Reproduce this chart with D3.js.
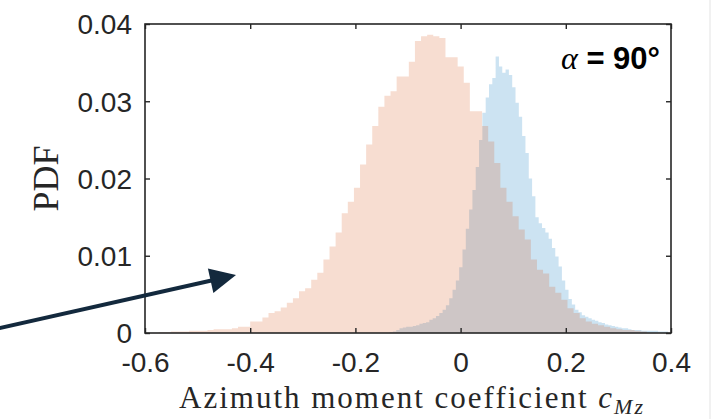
<!DOCTYPE html>
<html lang="en">
<head>
<meta charset="UTF-8">
<title>Azimuth moment coefficient PDF</title>
<script src="https://cdn.jsdelivr.net/npm/d3@7"></script>
<style>
    body { margin: 0; background: #fff; }
    svg { display: block; }
    .tick text { font-family: "Liberation Sans", Arial, sans-serif; font-size: 28px; fill: #262626; }
    .tick line { stroke: #262626; stroke-width: 1.4; }
</style>
</head>
<body>
<svg id="chart" width="718" height="419"></svg>
<script>
// axis ticks
const xTicks = [-0.6, -0.4, -0.2, 0, 0.2, 0.4];
const yTicks = [0, 0.01, 0.02, 0.03, 0.04];

// orange histogram (first edge, bin width, PDF per bin)
const orangeStart = -0.574;
const orangeWidth = 0.0116;
const orangePdf = [
    0.0001, 0.0001, 0.0002, 0.0002, 0.0002, 0.0003, 0.0003, 0.0003, 0.0004, 0.0005,
    0.0005, 0.0005, 0.0006, 0.0008, 0.0008, 0.0015, 0.0015, 0.0020, 0.0026, 0.0028,
    0.0033, 0.0039, 0.0045, 0.0054, 0.0058, 0.0069, 0.0078, 0.0095, 0.0112, 0.0130,
    0.0155, 0.0170, 0.0188, 0.0218, 0.0244, 0.0268, 0.0293, 0.0307, 0.0313, 0.0332,
    0.0332, 0.0351, 0.0378, 0.0384, 0.0386, 0.0384, 0.0382, 0.0357, 0.0357, 0.0345,
    0.0324, 0.0287, 0.0287, 0.0268, 0.0248, 0.0220, 0.0188, 0.0170, 0.0151, 0.0134,
    0.0121, 0.0095, 0.0082, 0.0077, 0.0060, 0.0052, 0.0043, 0.0032, 0.0026, 0.0019,
    0.0015, 0.0012, 0.0010, 0.0008, 0.0006, 0.0005, 0.0004, 0.0004, 0.0003, 0.0002
];

// blue histogram
const blueStart = -0.135;
const blueWidth = 0.0063;
const bluePdf = [
    0.0001, 0.0002, 0.0004, 0.0006, 0.0007, 0.0008, 0.0008, 0.0009, 0.0010, 0.0012,
    0.0013, 0.0014, 0.0017, 0.0019, 0.0022, 0.0026, 0.0030, 0.0036, 0.0045, 0.0056,
    0.0068, 0.0085, 0.0108, 0.0135, 0.0160, 0.0185, 0.0215, 0.0250, 0.0285, 0.0305,
    0.0322, 0.0330, 0.0358, 0.0345, 0.0337, 0.0341, 0.0334, 0.0318, 0.0298, 0.0280,
    0.0255, 0.0233, 0.0200, 0.0177, 0.0150, 0.0142, 0.0136, 0.0130, 0.0122, 0.0110,
    0.0099, 0.0086, 0.0068, 0.0056, 0.0044, 0.0037, 0.0030, 0.0027, 0.0023, 0.0021,
    0.0019, 0.0017, 0.0016, 0.0014, 0.0013, 0.0011, 0.0010, 0.0009, 0.0008, 0.0007,
    0.0006, 0.0006, 0.0005, 0.0004, 0.0004, 0.0004, 0.0003, 0.0003, 0.0003, 0.0003,
    0.0003, 0.0002, 0.0002, 0.0002
];

const svg = d3.select("#chart");
const margin = { left: 145, right: 47, top: 24, bottom: 86 };
const width = 718 - margin.left - margin.right;
const height = 419 - margin.top - margin.bottom;

const x = d3.scaleLinear().domain([-0.6, 0.4]).range([margin.left, margin.left + width]);
const y = d3.scaleLinear().domain([0, 0.04]).range([margin.top + height, margin.top]);

function stepPoints(start, w, vals) {
    const pts = vals.map((v, i) => ({ x: start + i * w, v: v }));
    pts.push({ x: start + vals.length * w, v: vals[vals.length - 1] });
    return pts;
}

const area = d3.area()
    .curve(d3.curveStepAfter)
    .x(d => x(d.x))
    .y0(y(0))
    .y1(d => y(d.v));

svg.append("path")
    .datum(stepPoints(blueStart, blueWidth, bluePdf))
    .attr("d", area)
    .attr("fill", "#0072BD")
    .attr("fill-opacity", 0.2);

svg.append("path")
    .datum(stepPoints(orangeStart, orangeWidth, orangePdf))
    .attr("d", area)
    .attr("fill", "#D95319")
    .attr("fill-opacity", 0.2);

// axes, ticks pointing inward
const fmt = d => String(d);
const xAxis = svg.append("g")
    .attr("transform", `translate(0,${margin.top + height})`)
    .call(d3.axisBottom(x).tickValues(xTicks).tickFormat(fmt).tickSizeInner(-5).tickSizeOuter(0));
xAxis.selectAll("text").attr("y", 39).attr("dy", null);

const yAxis = svg.append("g")
    .attr("transform", `translate(${margin.left},0)`)
    .call(d3.axisLeft(y).tickValues(yTicks).tickFormat(fmt).tickSizeInner(-5).tickSizeOuter(0));
yAxis.selectAll("text").attr("x", -13).attr("dy", "0.35em");

svg.append("g")
    .attr("transform", `translate(0,${margin.top})`)
    .call(d3.axisTop(x).tickValues(xTicks).tickFormat("").tickSizeInner(-5).tickSizeOuter(0));
svg.append("g")
    .attr("transform", `translate(${margin.left + width},0)`)
    .call(d3.axisRight(y).tickValues(yTicks).tickFormat("").tickSizeInner(-5).tickSizeOuter(0));

svg.selectAll(".domain").remove();

svg.append("rect")
    .attr("x", margin.left)
    .attr("y", margin.top)
    .attr("width", width)
    .attr("height", height)
    .attr("fill", "none")
    .attr("stroke", "#262626")
    .attr("stroke-width", 1.6);

// axis labels
svg.append("text")
    .attr("transform", `translate(58,${margin.top + height / 2}) rotate(-90)`)
    .attr("text-anchor", "middle")
    .style("font-family", "'Liberation Serif', 'Times New Roman', serif")
    .style("font-size", "36px")
    .attr("fill", "#262626")
    .text("PDF");

const xl = svg.append("text")
    .attr("x", margin.left + width / 2 + 4)
    .attr("y", 408)
    .attr("text-anchor", "middle")
    .style("font-family", "'Liberation Serif', 'Times New Roman', serif")
    .style("font-size", "31px")
    .style("letter-spacing", "2px")
    .attr("fill", "#262626");
xl.append("tspan").text("Azimuth moment coefficient ");
xl.append("tspan").style("font-style", "italic").text("c");
xl.append("tspan").style("font-style", "italic").style("font-size", "22px").attr("dy", 6).text("Mz");

// angle label
const al = svg.append("text")
    .attr("x", 660)
    .attr("y", 69)
    .attr("text-anchor", "end")
    .attr("fill", "#000");
al.append("tspan")
    .style("font-family", "'Liberation Serif', 'Times New Roman', serif")
    .style("font-style", "italic")
    .style("font-size", "32px")
    .text("\u03b1");
al.append("tspan")
    .style("font-family", "'Liberation Sans', Arial, sans-serif")
    .style("font-weight", "bold")
    .style("font-size", "31px")
    .text(" = 90\u00b0");

// annotation arrow (in data units)
const arrowFrom = [-0.885, 0.0005];
const arrowTo = [-0.427, 0.0075];
const x0 = x(arrowFrom[0]), y0 = y(arrowFrom[1]);
const x1 = x(arrowTo[0]), y1 = y(arrowTo[1]);
const ang = Math.atan2(y1 - y0, x1 - x0);
const headLen = 26, headHalf = 12.5;
const bx = x1 - headLen * Math.cos(ang), by = y1 - headLen * Math.sin(ang);
svg.append("line")
    .attr("x1", x0).attr("y1", y0)
    .attr("x2", bx + 2 * Math.cos(ang)).attr("y2", by + 2 * Math.sin(ang))
    .attr("stroke", "#13293d")
    .attr("stroke-width", 4);
svg.append("path")
    .attr("d", `M${x1},${y1}L${bx - headHalf * Math.sin(ang)},${by + headHalf * Math.cos(ang)}L${bx + headHalf * Math.sin(ang)},${by - headHalf * Math.cos(ang)}Z`)
    .attr("fill", "#13293d");

// faint page edge on the right
svg.append("line")
    .attr("x1", 710).attr("x2", 710)
    .attr("y1", 0).attr("y2", 419)
    .attr("stroke", "#ececec")
    .attr("stroke-width", 1.5);
</script>
</body>
</html>
